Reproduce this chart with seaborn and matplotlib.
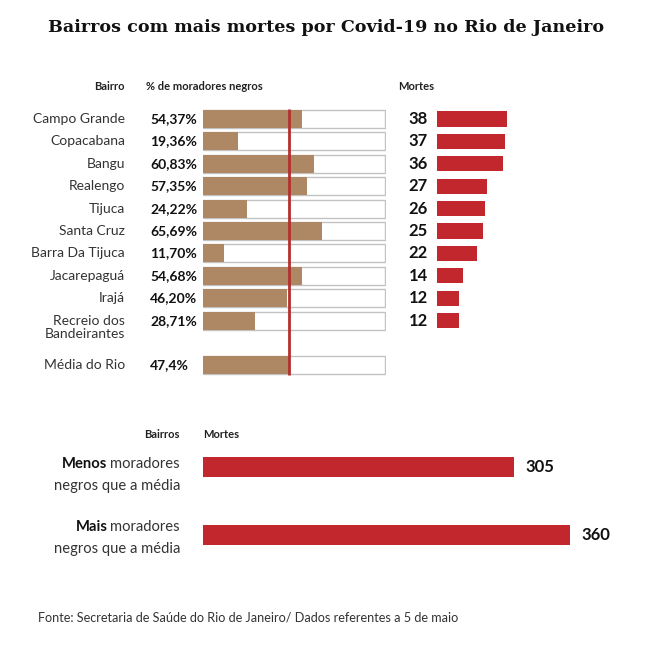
import matplotlib
matplotlib.use("Agg")
import matplotlib.pyplot as plt
import seaborn as sns
import pandas as pd
import numpy as np

# ---------------- data ----------------
bairros = ["Campo Grande", "Copacabana", "Bangu", "Realengo", "Tijuca",
           "Santa Cruz", "Barra Da Tijuca", "Jacarepaguá", "Irajá",
           "Recreio dos\nBandeirantes"]
pct_negros = [54.37, 19.36, 60.83, 57.35, 24.22, 65.69, 11.70, 54.68, 46.20, 28.71]
pct_labels = ["54,37%", "19,36%", "60,83%", "57,35%", "24,22%", "65,69%",
              "11,70%", "54,68%", "46,20%", "28,71%"]
mortes = [38, 37, 36, 27, 26, 25, 22, 14, 12, 12]
media_nome = "Média do Rio"
media_rio = 47.4
media_label = "47,4%"
grupos = ["Menos", "Mais"]
mortes_grupo = [305, 360]

TAN = "#AE8865"
RED = "#C1272D"
LINE_RED = "#B3302E"
FONT = "Lato"

sns.set_style("white")
plt.rcParams["font.family"] = [FONT, "DejaVu Sans"]

W = H = 652
fig = plt.figure(figsize=(6.52, 6.52), dpi=100)


def ax_px(x0, y0, x1, y1):
    return fig.add_axes([x0 / W, 1 - y1 / H, (x1 - x0) / W, (y1 - y0) / H])


def ftext(x, y, s, **kw):
    return fig.text(x / W, 1 - y / H, s, **kw)


def clean(ax):
    sns.despine(ax=ax, left=True, bottom=True, top=True, right=True)
    ax.set_xticks([])
    ax.set_yticks([])
    ax.set_xlabel("")
    ax.set_ylabel("")
    ax.set_facecolor("none")


# ---------------- title ----------------
ftext(326, 27, "Bairros com mais mortes por Covid-19 no Rio de Janeiro",
      ha="center", va="center", fontsize=12.6, fontweight="bold",
      family="DejaVu Serif", color="#111111")

# ---------------- top: % negros ----------------
gap = "_gap"
order = bairros + [gap, media_nome]
df_bg = pd.DataFrame({"cat": bairros + [media_nome],
                      "v": [100.0] * (len(bairros) + 1)})
df_pct = pd.DataFrame({"cat": bairros + [media_nome],
                       "v": pct_negros + [media_rio]})

row0 = 119.0
step = 22.4
ytop = row0 - step / 2
ybot = row0 + 11 * step + step / 2

ax1 = ax_px(203, ytop, 386, ybot)
sns.barplot(data=df_bg, x="v", y="cat", order=order, orient="h", color="white",
            edgecolor="#c2c2c2", linewidth=1.0, saturation=1, errorbar=None,
            width=0.8, ax=ax1)
sns.barplot(data=df_pct, x="v", y="cat", order=order, orient="h", color=TAN,
            linewidth=0, saturation=1, errorbar=None, width=0.8, ax=ax1)
ax1.set_xlim(0, 100.6)
ax1.set_ylim(11.5, -0.5)
ax1.plot([media_rio, media_rio], [-0.45, 11.45], color=LINE_RED, lw=2.0,
         solid_capstyle="butt", zorder=5)
clean(ax1)

rows = list(range(len(bairros))) + [11]
names = bairros + [media_nome]
labs = pct_labels + [media_label]
for r, nm, lb in zip(rows, names, labs):
    off = -7 if "\n" in nm else 0
    ax1.annotate(nm, xy=(125, r), xycoords=("figure pixels", "data"),
                 xytext=(0, off), textcoords="offset pixels",
                 ha="right", va="center", fontsize=10,
                 color="#333333", linespacing=1.05)
    ax1.annotate(lb, xy=(150, r), xycoords=("figure pixels", "data"),
                 ha="left", va="center", fontsize=10, fontweight="bold",
                 color="#111111")

ftext(125, 87, "Bairro", ha="right", va="center", fontsize=8, fontweight="bold",
      color="#222222")
ftext(146, 87, "% de moradores negros", ha="left", va="center", fontsize=8,
      fontweight="bold", color="#222222")
ftext(398, 87, "Mortes", ha="left", va="center", fontsize=8, fontweight="bold",
      color="#222222")

# ---------------- top: mortes ----------------
px_per = 1.84
ax2 = ax_px(437, ytop, 537, ybot)
df_m = pd.DataFrame({"cat": bairros, "v": mortes})
sns.barplot(data=df_m, x="v", y="cat", order=order, orient="h", color=RED,
            linewidth=0, saturation=1, errorbar=None, width=0.68, ax=ax2)
ax2.set_xlim(0, 100 / px_per)
ax2.set_ylim(11.5, -0.5)
clean(ax2)
for r, v in enumerate(mortes):
    ax2.annotate(str(v), xy=(0, r), xytext=(-9, 0), textcoords="offset pixels",
                 ha="right", va="center", fontsize=12, fontweight="bold",
                 color="#111111")

# ---------------- bottom ----------------
ax3 = ax_px(203, 433, 603, 569)
df_g = pd.DataFrame({"cat": grupos, "v": mortes_grupo})
sns.barplot(data=df_g, x="v", y="cat", order=grupos, orient="h", color=RED,
            linewidth=0, saturation=1, errorbar=None, width=0.29, ax=ax3)
ax3.set_xlim(0, 400 / 1.02)
ax3.set_ylim(1.5, -0.5)
clean(ax3)
for r, v in enumerate(mortes_grupo):
    ax3.annotate(str(v), xy=(v, r), xytext=(11, 0), textcoords="offset pixels",
                 ha="left", va="center", fontsize=12, fontweight="bold",
                 color="#111111")

ftext(180, 434, "Bairros", ha="right", va="center", fontsize=8,
      fontweight="bold", color="#222222")
ftext(203, 434, "Mortes", ha="left", va="center", fontsize=8,
      fontweight="bold", color="#222222")

renderer = fig.canvas.get_renderer()
for gname, y1 in zip(grupos, [464, 527]):
    t = ftext(180, y1, "moradores", ha="right", va="center", fontsize=10.6,
              color="#333333")
    bb = t.get_window_extent(renderer=renderer)
    ftext(bb.x0 - 3, y1, gname, ha="right", va="center", fontsize=10.6,
          fontweight="bold", color="#111111")
    ftext(180, y1 + 22, "negros que a média", ha="right", va="center",
          fontsize=10.6, color="#333333")

# ---------------- footer ----------------
ftext(38, 618, "Fonte: Secretaria de Saúde do Rio de Janeiro/ Dados referentes a 5 de maio",
      ha="left", va="center", fontsize=9.1, color="#333333")

fig.savefig("out.png", dpi=100, facecolor="white")
